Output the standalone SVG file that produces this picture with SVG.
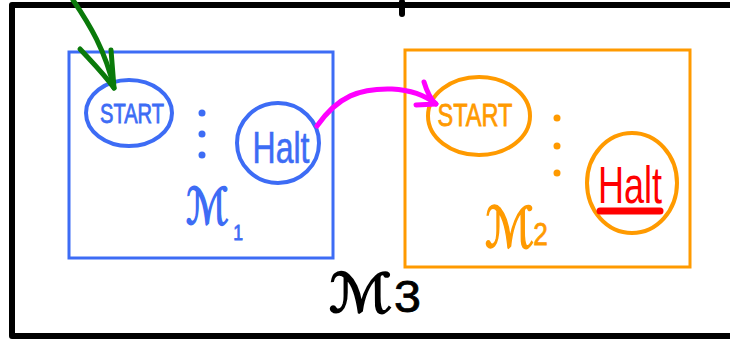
<svg xmlns="http://www.w3.org/2000/svg" width="730" height="341" viewBox="0 0 730 341">
  <defs>
    <style>
      .frame { fill: none; stroke: #000; stroke-width: 6; stroke-linecap: round; stroke-linejoin: round; }
      .box { fill: none; stroke-width: 3; }
      .blue { stroke: #3d6cf5; }
      .orange { stroke: #ff9a00; }
      .state { fill: none; stroke-width: 4; }
      .lbl { font-family: "Liberation Sans", "DejaVu Sans", sans-serif; text-anchor: middle; }
      .script { font-family: "DejaVu Sans", "Noto Sans", sans-serif; stroke-width: 1.6; }
      .sub { font-family: "Liberation Sans", "DejaVu Sans", sans-serif; stroke-width: 0.8; }
      .wire { fill: none; stroke-width: 5; stroke-linecap: round; stroke-linejoin: round; }
    </style>
  </defs>

  <!-- outer machine M3 -->
  <g id="m3">
    <path class="frame" d="M740,5 H12 V336 H740"/>
    <path class="frame" d="M402,2 V14"/>
    <text class="script" transform="translate(329,312) scale(1.1,1)" font-size="54" fill="#000" stroke="#000" stroke-width="2.5">ℳ<tspan class="sub" x="59" font-size="44" stroke-width="1">3</tspan></text>
  </g>

  <!-- machine M1 -->
  <g id="m1">
    <rect class="box blue" x="69" y="52" width="264" height="206"/>
    <text class="script" transform="translate(186,224) scale(0.8,1)" font-size="50" fill="#3d6cf5" stroke="#3d6cf5">ℳ<tspan class="sub" x="59" dy="16" font-size="22" stroke-width="0">1</tspan></text>
    <circle cx="202" cy="113" r="3.5" fill="#3d6cf5"/>
    <circle cx="202" cy="134" r="3.5" fill="#3d6cf5"/>
    <circle cx="202" cy="155" r="3.5" fill="#3d6cf5"/>
  </g>
  <g id="m1-start">
    <ellipse class="state blue" cx="129" cy="113" rx="43" ry="33"/>
    <text class="lbl" x="132" y="123" font-size="27" textLength="64" lengthAdjust="spacingAndGlyphs" fill="#3d6cf5" stroke="#3d6cf5" stroke-width="0.8">START</text>
  </g>
  <g id="m1-halt">
    <ellipse class="state blue" cx="278" cy="143" rx="41" ry="40"/>
    <text class="lbl" x="281" y="163" font-size="44" textLength="57" lengthAdjust="spacingAndGlyphs" fill="#3d6cf5" stroke="#3d6cf5" stroke-width="0.6">Halt</text>
  </g>

  <!-- machine M2 -->
  <g id="m2">
    <rect class="box orange" x="405" y="50" width="285" height="217"/>
    <text class="script" transform="translate(485,247) scale(0.82,1)" font-size="56" fill="#ff9a00" stroke="#ff9a00">ℳ<tspan class="sub" x="59" dy="-2" font-size="32">2</tspan></text>
    <circle cx="557" cy="118" r="3.5" fill="#ff9a00"/>
    <circle cx="557" cy="146" r="3.5" fill="#ff9a00"/>
    <circle cx="557" cy="173" r="3.5" fill="#ff9a00"/>
  </g>
  <g id="m2-start">
    <ellipse class="state orange" cx="479" cy="116" rx="51" ry="39"/>
    <text class="lbl" x="475" y="126" font-size="32" textLength="75" lengthAdjust="spacingAndGlyphs" fill="#ff9a00" stroke="#ff9a00" stroke-width="0.8">START</text>
  </g>
  <g id="m2-halt">
    <ellipse class="state orange" cx="632" cy="183" rx="45" ry="50"/>
    <text class="lbl" x="630" y="203" font-size="52" textLength="64" lengthAdjust="spacingAndGlyphs" fill="#ff0000">Halt</text>
    <path d="M600,211 H660" stroke="#ff0000" stroke-width="7" stroke-linecap="round"/>
  </g>

  <!-- transitions -->
  <g id="connectors">
    <!-- entry arrow into M1 start -->
    <path class="wire" stroke="#0a7a0a" d="M73,0 C90,25 105,50 114,88"/>
    <path class="wire" stroke="#0a7a0a" d="M80,49 C92,62 104,74 114,88 M111,50 C112,62 113,75 114,88"/>
    <!-- M1 halt to M2 start -->
    <path class="wire" stroke="#ff00ff" d="M317,126 C338,96 360,88 392,89 C412,90 426,96 436,104"/>
    <path class="wire" stroke="#ff00ff" d="M424,82 C427,92 430,99 436,104 L416,105"/>
  </g>
</svg>
